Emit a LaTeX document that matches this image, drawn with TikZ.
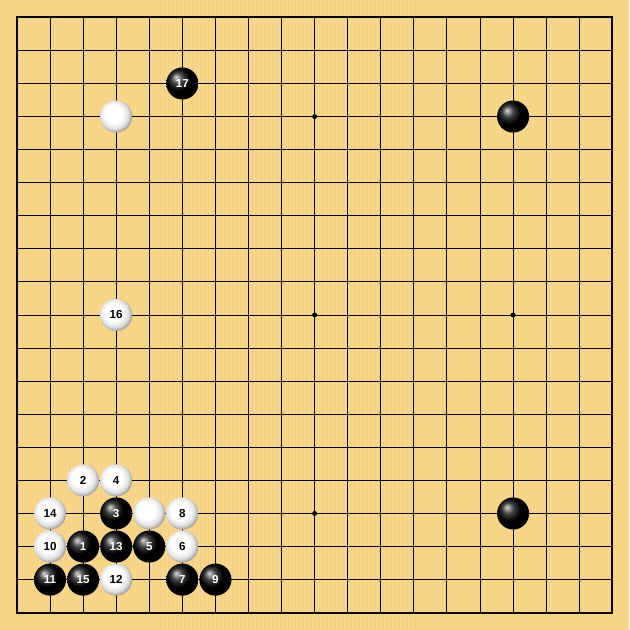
\documentclass[tikz,border=0pt]{standalone}
\usepackage{fontspec}
\setsansfont{Liberation Sans}
\definecolor{board}{HTML}{F8D78B}
\definecolor{grain}{HTML}{F4D083}
\pgfdeclareradialshading{whiteball}{\pgfpoint{-6bp}{6bp}}{%
  color(0bp)=(white); color(14bp)=(white); color(22bp)=(black!12);
  color(27bp)=(black!35); color(32bp)=(black!55); color(50bp)=(black!60)}

\begin{document}
\begin{tikzpicture}[
  blackstone/.style={circle,minimum size=0.97cm,inner sep=0pt,ball color=black,text=white,font=\sffamily\bfseries\fontsize{10}{10}\selectfont},
  whitestone/.style={circle,minimum size=0.97cm,inner sep=0pt,shading=whiteball,text=black,font=\sffamily\bfseries\fontsize{10}{10}\selectfont},
  star/.style={circle,fill=black,inner sep=0pt,minimum size=0.15cm}]
  \fill[board] (-0.513,-0.513) rectangle (18.513,18.513);
  \foreach \g in {-0.45,-0.33,...,18.5}
    \draw[grain,line width=0.6pt] (\g,-0.513) -- (\g,18.513);
  \foreach \i in {1,...,17} {
    \draw[line width=0.8pt] (\i,0) -- (\i,18);
    \draw[line width=0.8pt] (0,\i) -- (18,\i);
  }
  \draw[line width=1.6pt] (0,0) rectangle (18,18);
  % star points
  \node[star] (st1) at (3,15) {};
  \node[star] (st2) at (9,15) {};
  \node[star] (st3) at (15,15) {};
  \node[star] (st4) at (3,9) {};
  \node[star] (st5) at (9,9) {};
  \node[star] (st6) at (15,9) {};
  \node[star] (st7) at (3,3) {};
  \node[star] (st8) at (9,3) {};
  \node[star] (st9) at (15,3) {};
  % stones before the moves
  \node[whitestone] (wa) at (3,15) {};
  \node[blackstone] (ba) at (15,15) {};
  \node[whitestone] (wb) at (4,3) {};
  \node[blackstone] (bb) at (15,3) {};
  % moves
  \node[blackstone] (m1) at (2,2) {1};
  \node[whitestone] (m2) at (2,4) {2};
  \node[blackstone] (m3) at (3,3) {3};
  \node[whitestone] (m4) at (3,4) {4};
  \node[blackstone] (m5) at (4,2) {5};
  \node[whitestone] (m6) at (5,2) {6};
  \node[blackstone] (m7) at (5,1) {7};
  \node[whitestone] (m8) at (5,3) {8};
  \node[blackstone] (m9) at (6,1) {9};
  \node[whitestone] (m10) at (1,2) {10};
  \node[blackstone] (m11) at (1,1) {11};
  \node[whitestone] (m12) at (3,1) {12};
  \node[blackstone] (m13) at (3,2) {13};
  \node[whitestone] (m14) at (1,3) {14};
  \node[blackstone] (m15) at (2,1) {15};
  \node[whitestone] (m16) at (3,9) {16};
  \node[blackstone] (m17) at (5,16) {17};
\end{tikzpicture}
\end{document}
